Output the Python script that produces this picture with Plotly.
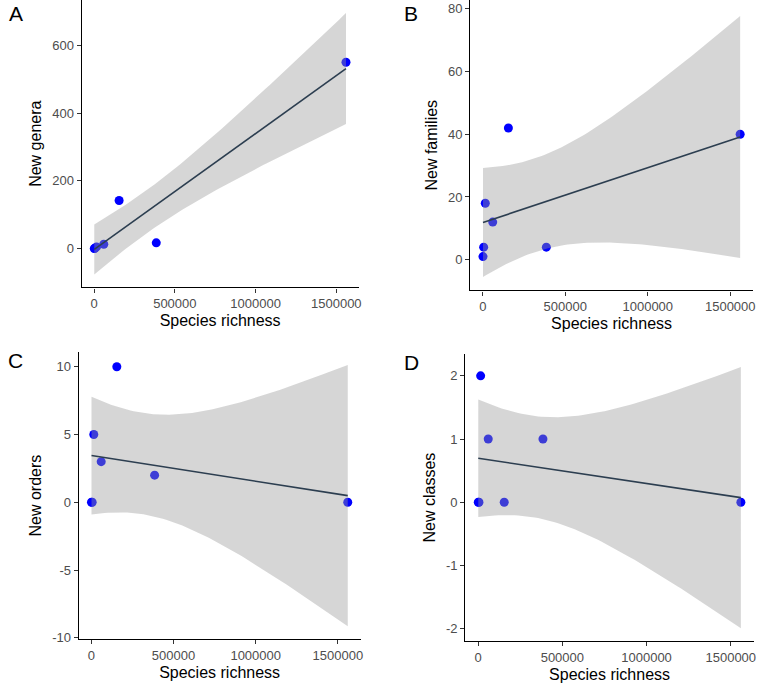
import numpy as np
import plotly.graph_objects as go

# ---- data ----
species_richness = [1000, 5000, 15000, 60000, 155000, 385000, 1560000]
new_genera = [0, 1, 5, 13, 142, 17, 550]
new_families = [1, 4, 18, 12, 42, 4, 40]
new_orders = [0, 0, 5, 3, 10, 2, 0]
new_classes = [0, 0, 2, 1, 0, 1, 0]

panel_letters = ["A", "B", "C", "D"]
y_titles = ["New genera", "New families", "New orders", "New classes"]
y_ticks = [[0, 200, 400, 600], [0, 20, 40, 60, 80], [-10, -5, 0, 5, 10], [-2, -1, 0, 1, 2]]
x_ticks = [0, 500000, 1000000, 1500000]
x_title = "Species richness"
# y range overrides (None = computed from data/band)
y_range_override = [None, [-9.8, 82.8], None, None]

T975_DF5 = 2.570582  # t quantile, 95% CI, n-2 = 5 df

W, H = 759, 686
# panel boxes in pixels: (left, right, top, bottom)
boxes = [(82, 360, 0, 290), (472, 756, 0, 293), (79, 362, 355, 645), (467, 757, 357, 647)]
letter_pos = [(16, 14), (413, 14), (16, 364), (413, 366)]

fig = go.Figure()
series = [new_genera, new_families, new_orders, new_classes]
FONT = "Liberation Sans, Arial, sans-serif"

for i, ys in enumerate(series):
    x = np.array(species_richness, float)
    y = np.array(ys, float)
    n = len(x)
    xb = x.mean()
    sxx = ((x - xb) ** 2).sum()
    b1 = ((x - xb) * (y - y.mean())).sum() / sxx
    b0 = y.mean() - b1 * xb
    resid = y - (b0 + b1 * x)
    s = np.sqrt((resid ** 2).sum() / (n - 2))
    xs = np.linspace(x.min(), x.max(), 80)
    fit = b0 + b1 * xs
    se = s * np.sqrt(1 / n + (xs - xb) ** 2 / sxx)
    lo, hi = fit - T975_DF5 * se, fit + T975_DF5 * se

    ax = "" if i == 0 else str(i + 1)
    xa, ya = "x" + ax, "y" + ax

    fig.add_trace(go.Scatter(x=x, y=y, mode="markers", xaxis=xa, yaxis=ya,
                             marker=dict(color="#0000FF", size=9, line=dict(width=0)),
                             showlegend=False, hoverinfo="skip"))
    fig.add_trace(go.Scatter(x=np.concatenate([xs, xs[::-1]]), y=np.concatenate([hi, lo[::-1]]),
                             fill="toself", fillcolor="rgba(153,153,153,0.4)", line=dict(width=0),
                             mode="lines", xaxis=xa, yaxis=ya, showlegend=False, hoverinfo="skip"))
    fig.add_trace(go.Scatter(x=xs, y=fit, mode="lines", line=dict(color="#2C3E50", width=1.6),
                             xaxis=xa, yaxis=ya, showlegend=False, hoverinfo="skip"))

    ymin = min(lo.min(), y.min()); ymax = max(hi.max(), y.max())
    yr = [ymin - 0.05 * (ymax - ymin), ymax + 0.05 * (ymax - ymin)]
    if y_range_override[i] is not None:
        yr = y_range_override[i]
    xr = [x.min() - 0.05 * (x.max() - x.min()), x.max() + 0.05 * (x.max() - x.min())]

    l, r, t, b = boxes[i]
    common = dict(showgrid=False, zeroline=False, showline=True, linecolor="black", linewidth=1.2,
                  ticks="outside", ticklen=4, tickcolor="#333333", tickwidth=1.1,
                  tickfont=dict(size=13, color="#4D4D4D", family=FONT))
    fig.layout["xaxis" + ax] = dict(domain=[l / W, r / W], anchor=ya, range=xr,
                                    tickvals=x_ticks, ticktext=[str(v) for v in x_ticks],
                                    title=dict(text=x_title, font=dict(size=16, color="black", family=FONT), standoff=4),
                                    **common)
    fig.layout["yaxis" + ax] = dict(domain=[1 - b / H, 1 - t / H], anchor=xa, range=yr,
                                    tickvals=y_ticks[i], ticktext=[str(v) for v in y_ticks[i]],
                                    title=dict(text=y_titles[i], font=dict(size=16, color="black", family=FONT), standoff=6),
                                    **common)
    lx, ly = letter_pos[i]
    fig.add_annotation(text=panel_letters[i], x=lx / W, y=1 - ly / H, xref="paper", yref="paper",
                       showarrow=False, font=dict(size=21, color="black", family=FONT),
                       xanchor="center", yanchor="middle")

fig.update_layout(width=W, height=H, margin=dict(l=0, r=0, t=0, b=0),
                  paper_bgcolor="white", plot_bgcolor="white", font=dict(family=FONT))
fig.write_html("out.html")
